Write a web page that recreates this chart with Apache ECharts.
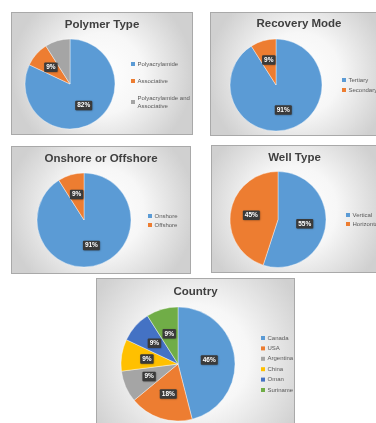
<!DOCTYPE html>
<html>
<head>
<meta charset="utf-8">
<script src="https://cdn.jsdelivr.net/npm/echarts@6/dist/echarts.min.js"></script>
<style>
  html, body { margin: 0; padding: 0; width: 376px; height: 423px; overflow: hidden; background: #ffffff; }
  .panel { position: absolute; border: 1px solid #a9a9a9; box-sizing: border-box; }
  .panel > div { position: absolute; left: 0; top: 0; width: 100%; height: 100%; }
</style>
</head>
<body>
<div class="panel" id="w1" style="left:11px;top:12px;width:182px;height:123px;"><div id="c1"></div></div>
<div class="panel" id="w2" style="left:210px;top:12px;width:178px;height:124px;"><div id="c2"></div></div>
<div class="panel" id="w3" style="left:11px;top:146px;width:180px;height:128px;"><div id="c3"></div></div>
<div class="panel" id="w4" style="left:211px;top:145px;width:167px;height:128px;"><div id="c4"></div></div>
<div class="panel" id="w5" style="left:96px;top:278px;width:199px;height:160px;"><div id="c5"></div></div>
<script>
// ---- data (percent of projects) ----
const polymerCategories = ['Polyacrylamide', 'Associative', 'Polyacrylamide and Associative'];
const polymerValues = [82, 9, 9];

const recoveryCategories = ['Tertiary', 'Secondary'];
const recoveryValues = [91, 9];

const onshoreCategories = ['Onshore', 'Offshore'];
const onshoreValues = [91, 9];

const wellCategories = ['Vertical', 'Horizontal'];
const wellValues = [55, 45];

const countryCategories = ['Canada', 'USA', 'Argentina', 'China', 'Oman', 'Suriname'];
const countryValues = [46, 18, 9, 9, 9, 9];

const palette = ['#5B9BD5', '#ED7D31', '#A5A5A5', '#FFC000', '#4472C4', '#70AD47'];

const FONT = '"Liberation Sans", Arial, sans-serif';

function build(el, cfg) {
  const chart = echarts.init(document.getElementById(el), null, { renderer: 'canvas' });
  const data = cfg.categories.map((name, i) => ({
    name: name,
    value: cfg.values[i],
    itemStyle: { color: palette[i] }
  }));
  chart.setOption({
    animation: false,
    backgroundColor: {
      type: 'radial', x: 0.5, y: 0.5, r: 0.75,
      colorStops: [
        { offset: 0, color: '#ffffff' },
        { offset: 0.45, color: '#f7f7f7' },
        { offset: 1, color: '#d0d0d0' }
      ]
    },
    title: {
      text: cfg.title,
      left: 'center',
      top: cfg.titleTop,
      padding: 0,
      textStyle: { fontFamily: FONT, fontSize: 11.5, fontWeight: 'bold', color: '#404040' }
    },
    legend: {
      orient: 'vertical',
      left: cfg.legendLeft,
      top: cfg.legendTop,
      padding: 0,
      itemWidth: 4,
      itemHeight: 4,
      itemGap: cfg.legendGap,
      icon: 'rect',
      selectedMode: false,
      itemStyle: { borderWidth: 0 },
      data: cfg.categories,
      formatter: function (n) { return cfg.legendText ? cfg.legendText[n] || n : n; },
      textStyle: { fontFamily: FONT, fontSize: 6, color: '#595959', lineHeight: 8, padding: [0, 0, 0, -2.5] }
    },
    series: [{
      type: 'pie',
      center: cfg.center,
      radius: cfg.radius,
      startAngle: 90,
      clockwise: true,
      data: data,
      itemStyle: { borderColor: '#ffffff', borderWidth: 0.4 },
      label: {
        show: true,
        position: 'inside',
        formatter: '{c}%',
        fontFamily: FONT,
        fontSize: 6.5,
        fontWeight: 'bold',
        color: '#ffffff',
        backgroundColor: '#3a3a3a',
        padding: [1.5, 2, 1, 2],
        borderRadius: 1,
        shadowColor: 'rgba(0,0,0,0.35)',
        shadowBlur: 1.5,
        shadowOffsetX: 0.5,
        shadowOffsetY: 0.5
      },
      labelLine: { show: false },
      emphasis: { disabled: true }
    }]
  });
}

build('c1', {
  title: 'Polymer Type', titleTop: 6,
  categories: polymerCategories, values: polymerValues,
  legendText: { 'Polyacrylamide and Associative': 'Polyacrylamide and\nAssociative' },
  center: [58, 71], radius: 45,
  legendLeft: 119, legendTop: 47, legendGap: 9
});
build('c2', {
  title: 'Recovery Mode', titleTop: 5,
  categories: recoveryCategories, values: recoveryValues,
  center: [65, 72], radius: 46,
  legendLeft: 131, legendTop: 63, legendGap: 2
});
build('c3', {
  title: 'Onshore or Offshore', titleTop: 6,
  categories: onshoreCategories, values: onshoreValues,
  center: [72, 73], radius: 47,
  legendLeft: 136, legendTop: 65, legendGap: 1
});
build('c4', {
  title: 'Well Type', titleTop: 6,
  categories: wellCategories, values: wellValues,
  center: [66, 73.5], radius: 48,
  legendLeft: 134, legendTop: 65, legendGap: 1
});
build('c5', {
  title: 'Country', titleTop: 7,
  categories: countryCategories, values: countryValues,
  center: [81, 85], radius: 57,
  legendLeft: 164, legendTop: 55, legendGap: 2.4
});
</script>
</body>
</html>
